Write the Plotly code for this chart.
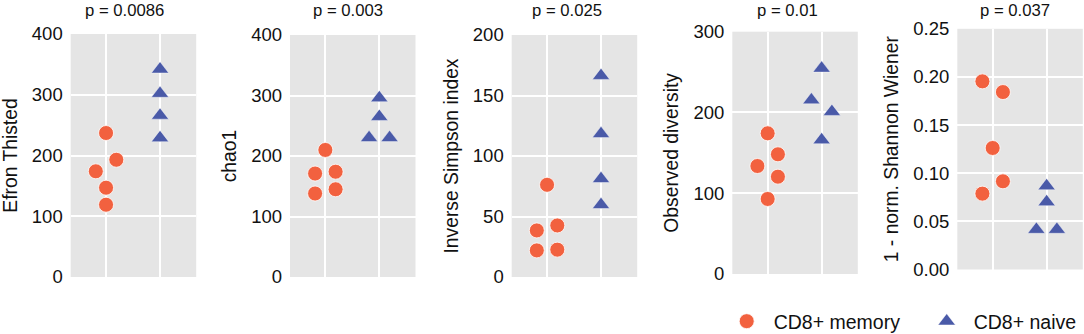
import plotly.graph_objects as go

# ---------------- data ----------------
groups = ["CD8+ memory", "CD8+ naive"]
metrics = ["Efron Thisted", "chao1", "Inverse Simpson index",
           "Observed diversity", "1 - norm. Shannon Wiener"]
p_labels = ["p = 0.0086", "p = 0.003", "p = 0.025", "p = 0.01", "p = 0.037"]

# values listed in sample order
memory_efron = [237, 193, 174, 147, 119]
naive_efron = [342, 302, 266, 229]
memory_chao1 = [210, 174, 171, 145, 138]
naive_chao1 = [296, 265, 230, 230]
memory_invsimpson = [76.2, 42.6, 38.5, 22.6, 22.0]
naive_invsimpson = [166.4, 118.3, 81.2, 59.7]
memory_observed = [174.2, 148.2, 133.7, 120.5, 92.9]
naive_observed = [254.6, 201.0, 215.4, 166.0]
memory_shannon = [0.1843, 0.1954, 0.1262, 0.0916, 0.0788]
naive_shannon = [0.0868, 0.0702, 0.0415, 0.0415]

y_ranges = [(0, 400), (0, 400), (0, 200), (0, 300), (0, 0.25)]
y_dticks = [100, 100, 50, 100, 0.05]
y_formats = ["d", "d", "d", "d", ".2f"]

memory_sets = [memory_efron, memory_chao1, memory_invsimpson, memory_observed, memory_shannon]
naive_sets = [naive_efron, naive_chao1, naive_invsimpson, naive_observed, naive_shannon]

# ---------------- layout geometry (pixels) ----------------
W, H = 1084, 334
panel_left = [70.7, 290.0, 511.7, 732.3, 957.3]
panel_width = 125.5
panel_top = [34.0, 35.0, 35.0, 31.7, 28.8]
panel_bottom = [277.0, 277.0, 277.0, 274.0, 269.5]
title_cx = [124, 348, 567, 787, 1015]
x_range = [0.345, 2.67]

MEM_COLOR = "#F2613F"
NAIVE_COLOR = "#4A5AA8"
FONT = "Liberation Sans, Arial, sans-serif"
TXT = "#111111"


def swarm_offsets(values, px_per_unit, gap_px=14.0, step=0.19):
    """Simple beeswarm: points closer than gap_px vertically form a cluster;
    cluster members (in sample order) alternate right / left of centre."""
    order = sorted(range(len(values)), key=lambda i: -values[i])
    clusters = []
    for i in order:
        if clusters and (values[clusters[-1][-1]] - values[i]) * px_per_unit < gap_px:
            clusters[-1].append(i)
        else:
            clusters.append([i])
    off = [0.0] * len(values)
    for c in clusters:
        if len(c) > 1:
            for k, i in enumerate(sorted(c)):
                off[i] = step if k % 2 == 0 else -step
    return off


fig = go.Figure()
layout = {}

for p in range(5):
    n = "" if p == 0 else str(p + 1)
    xa, ya = "x" + n, "y" + n
    lo, hi = y_ranges[p]
    ppu = (panel_bottom[p] - panel_top[p]) / (hi - lo)

    mem = memory_sets[p]
    nai = naive_sets[p]
    mo = swarm_offsets(mem, ppu)
    no = swarm_offsets(nai, ppu)

    fig.add_trace(go.Scatter(
        x=[1 + o for o in mo], y=mem, mode="markers", name=groups[0],
        xaxis=xa, yaxis=ya, showlegend=(p == 0), legend="legend",
        marker=dict(symbol="circle", size=15, color=MEM_COLOR,
                    line=dict(color="rgba(255,255,255,0.8)", width=1)),
        hoverinfo="y"))
    fig.add_trace(go.Scatter(
        x=[2 + o for o in no], y=nai, mode="markers", name=groups[1],
        xaxis=xa, yaxis=ya, showlegend=(p == 0), legend="legend2",
        marker=dict(symbol="triangle-up", size=15, color=NAIVE_COLOR,
                    line=dict(color="rgba(255,255,255,0.6)", width=0.7)),
        hoverinfo="y"))

    x0 = panel_left[p] / W
    x1 = (panel_left[p] + panel_width) / W
    y0 = 1 - panel_bottom[p] / H
    y1 = 1 - panel_top[p] / H

    layout["xaxis" + n] = dict(
        domain=[x0, x1], anchor=ya, range=x_range, tickvals=[1, 2],
        showticklabels=False, ticks="", showgrid=True, gridcolor="white",
        gridwidth=2, zeroline=False, showline=False, fixedrange=True)
    layout["yaxis" + n] = dict(
        domain=[y0, y1], anchor=xa, range=[lo, hi], dtick=y_dticks[p],
        tick0=0, tickformat=y_formats[p], showgrid=True, gridcolor="white",
        gridwidth=2, zeroline=False, showline=False, ticks="",
        ticklabelstandoff=7,
        tickfont=dict(size=18.5, color=TXT, family=FONT),
        title=dict(text=metrics[p], standoff=9,
                   font=dict(size=19.3, color=TXT, family=FONT)),
        automargin=False, fixedrange=True)

annotations = [
    dict(text=p_labels[p], x=title_cx[p] / W, y=1 - 10.5 / H,
         xref="paper", yref="paper", xanchor="center", yanchor="middle",
         showarrow=False, font=dict(size=16.7, color=TXT, family=FONT))
    for p in range(5)
]

legend_common = dict(
    orientation="h", yanchor="bottom", y=-7 / H, xanchor="left",
    bgcolor="rgba(0,0,0,0)", borderwidth=0, itemwidth=44,
    font=dict(size=19.5, color=TXT, family=FONT))

fig.update_layout(
    width=W, height=H, autosize=False,
    margin=dict(l=0, r=0, t=0, b=0, pad=0, autoexpand=False),
    paper_bgcolor="white", plot_bgcolor="#E5E5E5",
    font=dict(family=FONT, color=TXT),
    annotations=annotations,
    legend=dict(x=(746.7 - 27) / W, **legend_common),
    legend2=dict(x=(946.7 - 27) / W, **legend_common),
    **layout)

fig.write_html("out.html",
               config={"displayModeBar": False, "staticPlot": True},
               post_script="document.body.style.margin='0';"
                           "document.body.style.overflow='hidden';")
